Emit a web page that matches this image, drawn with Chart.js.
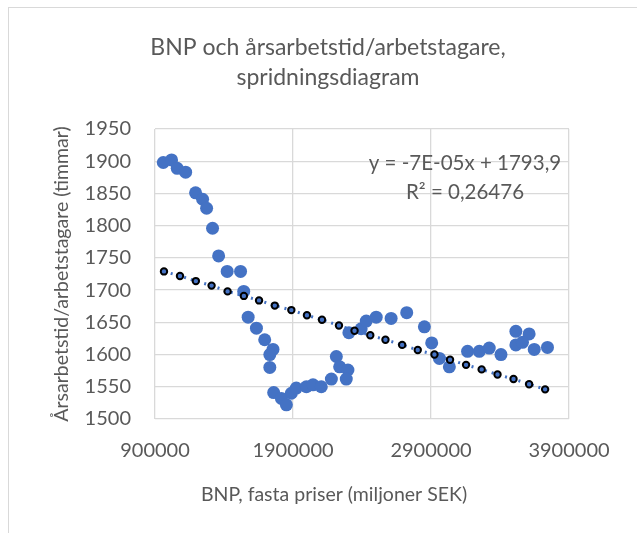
<!DOCTYPE html>
<html lang="sv">
<head>
<meta charset="UTF-8">
<title>BNP och årsarbetstid</title>
<script src="https://cdn.jsdelivr.net/npm/chart.js"></script>
<style>
  html, body { margin: 0; padding: 0; background: #fff; overflow: hidden; }
  #frame { position: absolute; left: 8px; top: 7px; width: 700px; height: 600px; border: 1px solid #d9d9d9; }
  #wrap { position: absolute; left: 0; top: 0; width: 637px; height: 533px; }
</style>
</head>
<body>
<div id="frame"></div>
<div id="wrap"><canvas id="chart" width="637" height="533"></canvas></div>
<script>
// BNP (miljoner SEK) och årsarbetstid per arbetstagare (timmar)
const bnp = [960000, 1020000, 1061000, 1122000, 1194000, 1245000, 1274000, 1317000, 1361000, 1423000,
  1520000, 1543000, 1575000, 1635000, 1695000, 1755000, 1732000, 1732000, 1760000, 1816000,
  1852000, 1888000, 1924000, 1997000, 2045000, 2105000, 2178000, 2214000, 2238000, 2298000,
  2286000, 2305000, 2394000, 2431000, 2503000, 2611000, 2724000, 2852000, 2905000, 2961000,
  3033000, 3165000, 3250000, 3322000, 3407000, 3515000, 3515000, 3611000, 3563000, 3648000, 3744000];
const timmar = [1898, 1902, 1889, 1883, 1851, 1841, 1827, 1796, 1753, 1729,
  1729, 1698, 1658, 1641, 1623, 1608, 1600, 1580, 1541, 1532,
  1522, 1540, 1548, 1550, 1553, 1550, 1562, 1597, 1581, 1576,
  1562, 1634, 1640, 1652, 1658, 1656, 1665, 1643, 1618, 1594,
  1581, 1605, 1605, 1610, 1600, 1636, 1615, 1632, 1619, 1608, 1611];

// punkter längs trendlinjen
const trendX = [965000, 1081000, 1196000, 1310000, 1426000, 1544000, 1654000, 1768000, 1888000, 2001000,
  2110000, 2233000, 2346000, 2460000, 2570000, 2691000, 2804000, 2925000, 3038000, 3154000,
  3267000, 3382000, 3498000, 3611000, 3727000];
const trendY = [1729, 1722, 1714, 1707, 1698, 1691, 1684, 1676, 1669, 1661,
  1654, 1645, 1637, 1630, 1623, 1615, 1607, 1600, 1592, 1584,
  1577, 1569, 1562, 1554, 1546];

const titleLines = ['BNP och årsarbetstid/arbetstagare,', 'spridningsdiagram'];
const eqLines = ['y = -7E-05x + 1793,9', 'R² = 0,26476'];
const xTitle = 'BNP, fasta priser (miljoner SEK)';

const txt = '#595959';
const fam = 'Lato, "Open Sans", sans-serif';

const textPlugin = {
  id: 'texts',
  afterDraw(chart) {
    const ctx = chart.ctx;
    ctx.save();
    ctx.fillStyle = txt;
    ctx.textAlign = 'center';
    ctx.textBaseline = 'middle';
    ctx.font = '23px ' + fam;
    ctx.fillText(titleLines[0], 328, 48);
    ctx.fillText(titleLines[1], 328, 78);
    ctx.font = '20.5px ' + fam;
    ctx.fillText(eqLines[0], 465, 163);
    ctx.fillText(eqLines[1], 465, 192);
    ctx.font = '19.5px ' + fam;
    ctx.fillText(xTitle, 334, 495);
    ctx.restore();
  }
};

new Chart(document.getElementById('chart'), {
  type: 'scatter',
  data: {
    datasets: [
      {
        label: 'Linjär trend',
        data: trendX.map((x, i) => ({ x: x, y: trendY[i] })),
        showLine: true,
        borderColor: '#4472C4',
        borderWidth: 3,
        borderDash: [2, 5],
        pointRadius: 3.2,
        pointBorderWidth: 2,
        pointBorderColor: '#000',
        pointBackgroundColor: '#4472C4'
      },
      {
        label: 'Årsarbetstid',
        data: bnp.map((x, i) => ({ x: x, y: timmar[i] })),
        pointRadius: 6.5,
        pointBorderWidth: 0,
        backgroundColor: '#4472C4',
        borderColor: '#4472C4'
      }
    ]
  },
  options: {
    responsive: false,
    animation: false,
    layout: { padding: { top: 129, right: 68, left: 0, bottom: 0 } },
    plugins: { legend: { display: false }, tooltip: { enabled: false }, title: { display: false } },
    scales: {
      x: {
        type: 'linear',
        min: 900000, max: 3900000,
        afterFit(s) { s.height = 114; },
        ticks: { stepSize: 1000000, color: txt, font: { family: fam, size: 20 }, padding: 20,
          callback: v => String(v) },
        grid: { color: '#d9d9d9', lineWidth: 1.3, drawTicks: false },
        border: { display: false }
      },
      y: {
        min: 1500, max: 1950,
        afterFit(s) { s.width = 155; },
        ticks: { stepSize: 50, color: txt, font: { family: fam, size: 20 }, padding: 24,
          callback: v => String(v) },
        grid: { color: '#d9d9d9', lineWidth: 1.3, drawTicks: false },
        border: { display: false },
        title: { display: true, text: 'Årsarbetstid/arbetstagare (timmar)', color: txt,
          font: { family: fam, size: 19.5 }, padding: { top: 50, bottom: 0 } }
      }
    }
  },
  plugins: [textPlugin]
});
</script>
</body>
</html>
